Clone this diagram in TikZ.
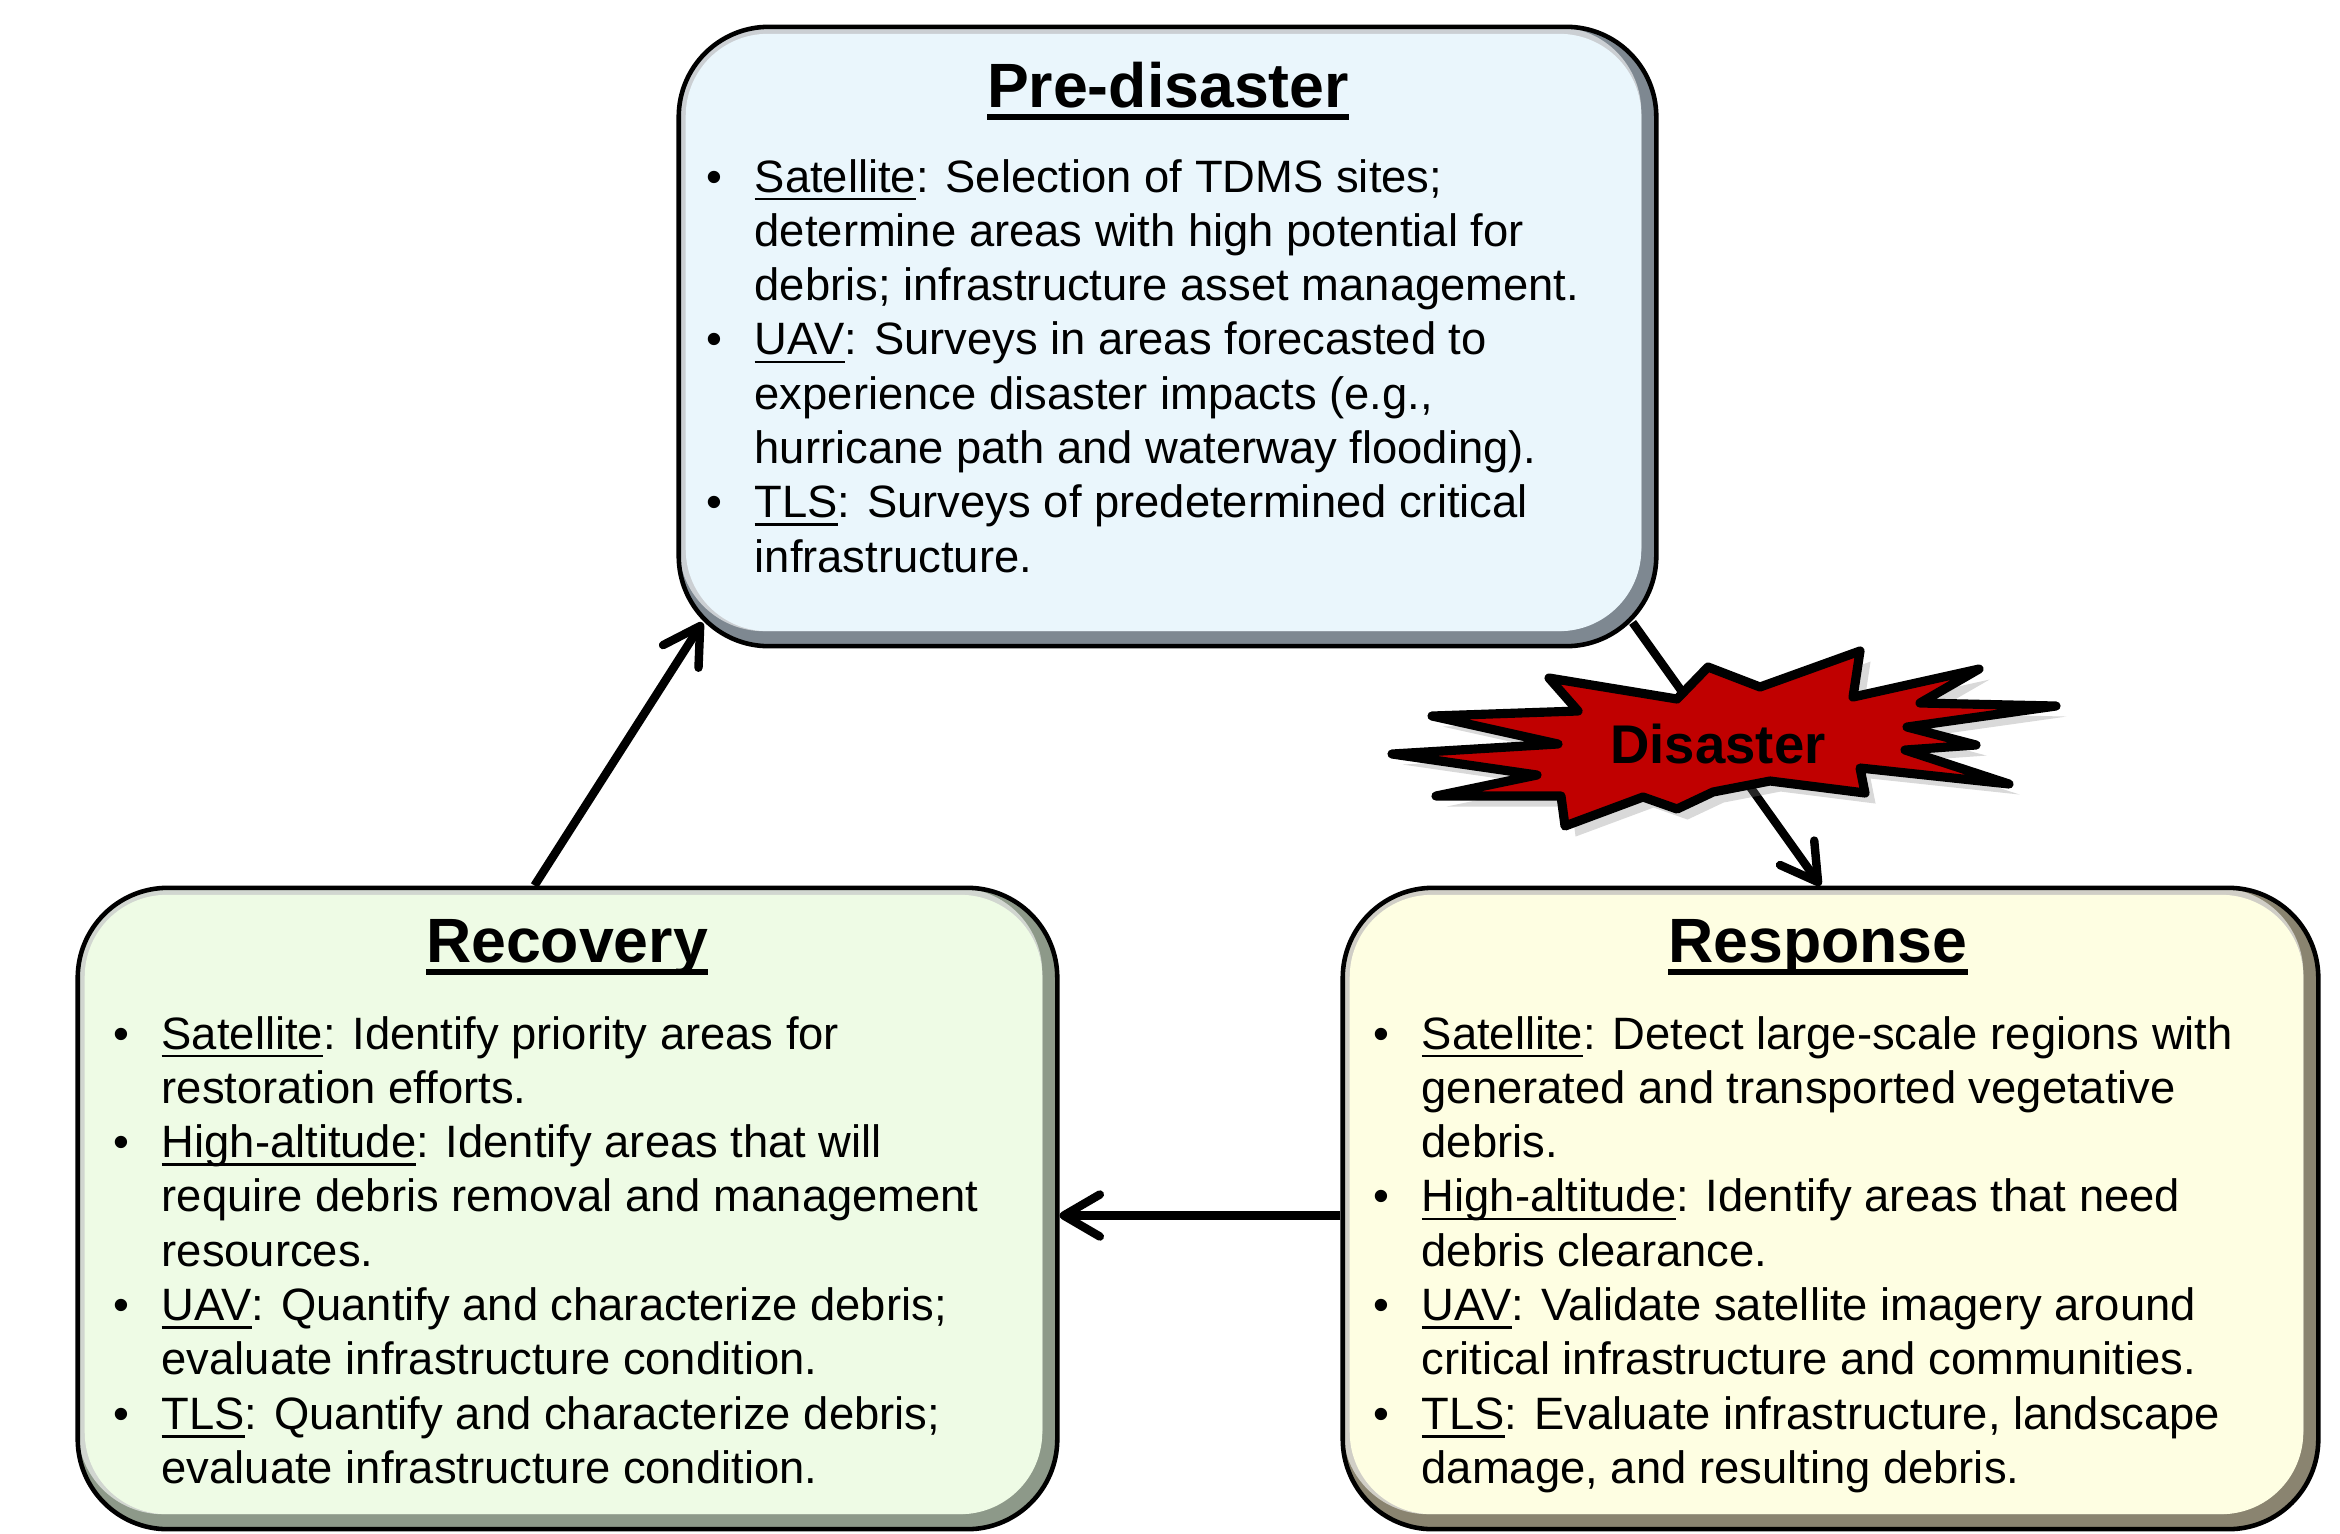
\documentclass[tikz,border=0pt]{standalone}
\usepackage{fontspec}
\setmainfont{Liberation Sans}
\usetikzlibrary{arrows.meta,calc,shadows}

\definecolor{prefill}{HTML}{EAF6FC}
\definecolor{prebevel}{HTML}{7E8891}
\definecolor{recfill}{HTML}{EEFBE5}
\definecolor{recbevel}{HTML}{8D9989}
\definecolor{respfill}{HTML}{FEFEE2}
\definecolor{respbevel}{HTML}{8A8470}
\definecolor{blastred}{HTML}{C00000}

\newsavebox{\ulbox}
\newcommand{\phasehead}[1]{\sbox{\ulbox}{#1}\rlap{\rule[-3.6pt]{\wd\ulbox}{1.7pt}}\usebox{\ulbox}}
\newcommand{\tool}[1]{\sbox{\ulbox}{#1}\rlap{\rule[-2.4pt]{\wd\ulbox}{0.8pt}}\usebox{\ulbox}}

\tikzset{
  phasebox/.style 2 args={draw=black, line width=1.3pt, rounded corners=0.9cm, fill=#2,
    path picture={
      \fill[#2!40!white, rounded corners=0.85cm] (path picture bounding box.north west)
        rectangle ([shift={(-0.15cm,0.15cm)}]path picture bounding box.south east);
      \fill[#1, rounded corners=0.82cm] ([shift={(0.07cm,-0.07cm)}]path picture bounding box.north west)
        rectangle ([shift={(-0.15cm,0.15cm)}]path picture bounding box.south east);
    }},
  phasetitle/.style={font=\fontsize{17.8}{20}\selectfont\bfseries, inner sep=0pt, anchor=base},
  phasetext/.style={font=\fontsize{12.9}{15.44}\selectfont, inner sep=0pt, anchor=base west},
  flow/.style={line width=2.4pt, -{Straight Barb[length=3.6mm, width=4.2mm, line cap=round, line join=round]}},
}

\begin{document}
\begin{tikzpicture}[x=0.01cm, y=-0.01cm]
\useasboundingbox (0,0) rectangle (2340,1533);

% the three phases
\node[phasebox={prefill}{prebevel}, minimum width=9.77cm, minimum height=6.19cm] (pre) at (1167.5,336.5) {};
\node[phasebox={recfill}{recbevel}, minimum width=9.79cm, minimum height=6.41cm] (rec) at (567.5,1208.5) {};
\node[phasebox={respfill}{respbevel}, minimum width=9.75cm, minimum height=6.41cm] (resp) at (1830.5,1208.5) {};

\node[phasetitle] (pretitle) at (1168,107) {\phasehead{Pre-disaster}};
\node[phasetitle] (rectitle) at (567,962) {\phasehead{Recovery}};
\node[phasetitle] (resptitle) at (1818,962) {\phasehead{Response}};

\node[phasetext] (pretext) at (706,192) {\begin{tabular}[t]{@{}p{0.48cm}@{}l@{}}
\textbullet & \tool{Satellite}: Selection of TDMS sites;\\
 & determine areas with high potential for\\
 & debris; infrastructure asset management.\\
\textbullet & \tool{UAV}: Surveys in areas forecasted to\\
 & experience disaster impacts (e.g.,\\
 & hurricane path and waterway flooding).\\
\textbullet & \tool{TLS}: Surveys of predetermined critical\\
 & infrastructure.
\end{tabular}};

\node[phasetext] (rectext) at (113,1049) {\begin{tabular}[t]{@{}p{0.48cm}@{}l@{}}
\textbullet & \tool{Satellite}: Identify priority areas for\\
 & restoration efforts.\\
\textbullet & \tool{High-altitude}: Identify areas that will\\
 & require debris removal and management\\
 & resources.\\
\textbullet & \tool{UAV}: Quantify and characterize debris;\\
 & evaluate infrastructure condition.\\
\textbullet & \tool{TLS}: Quantify and characterize debris;\\
 & evaluate infrastructure condition.
\end{tabular}};

\node[phasetext] (resptext) at (1373,1049) {\begin{tabular}[t]{@{}p{0.48cm}@{}l@{}}
\textbullet & \tool{Satellite}: Detect large-scale regions with\\
 & generated and transported vegetative\\
 & debris.\\
\textbullet & \tool{High-altitude}: Identify areas that need\\
 & debris clearance.\\
\textbullet & \tool{UAV}: Validate satellite imagery around\\
 & critical infrastructure and communities.\\
\textbullet & \tool{TLS}: Evaluate infrastructure, landscape\\
 & damage, and resulting debris.
\end{tabular}};

% cycle arrows
\draw[flow] ($(rec.north)+(-33,0)$) -- ($(pre.south west)+(26,-26)$);
\draw[flow] ($(resp.west)+(0,7)$) -- ($(rec.east)+(0,7)$);
\draw[flow] ($(pre.south east)+(-26,-26)$) -- ($(resp.north)+(-10,0)$);

% the disaster burst
\draw[fill=blastred, line width=2.6pt, line join=round,
      drop shadow={opacity=0.3, shadow xshift=3pt, shadow yshift=-3pt}]
  (1392,754) -- (1558,744) -- (1432,716) -- (1578,711) -- (1549,678) -- (1677,699)
  -- (1708,667) -- (1760,687) -- (1860,651) -- (1853,697) -- (1979,669) -- (1920,703)
  -- (2056,706) -- (1907,727) -- (1976,745) -- (1905,750) -- (2009,784) -- (1860,768)
  -- (1865,793) -- (1770,781) -- (1713,792) -- (1677,809) -- (1643,797) -- (1565,826)
  -- (1561,796) -- (1436,796) -- (1537,775) -- cycle;
\node[font=\fontsize{15.5}{18}\selectfont\bfseries] (dis) at (1718,744) {Disaster};
\end{tikzpicture}
\end{document}
